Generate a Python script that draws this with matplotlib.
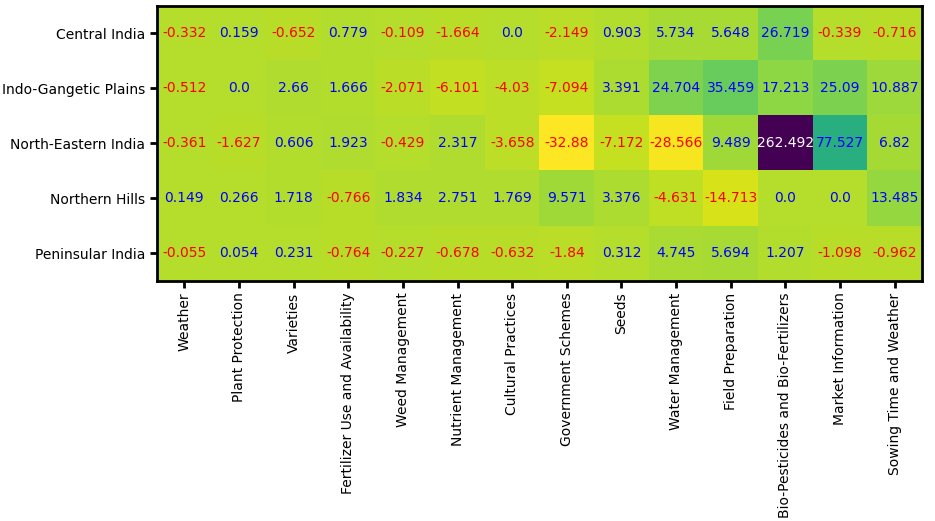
import numpy as np
from matplotlib import pyplot as plt

regions = ['Central India', 'Indo-Gangetic Plains', 'North-Eastern India',
           'Northern Hills', 'Peninsular India']
topics = ['Weather', 'Plant Protection', 'Varieties', 'Fertilizer Use and Availability',
          'Weed Management', 'Nutrient Management', 'Cultural Practices',
          'Government Schemes', 'Seeds', 'Water Management', 'Field Preparation',
          'Bio-Pesticides and Bio-Fertilizers', 'Market Information',
          'Sowing Time and Weather']

central = [-0.332, 0.159, -0.652, 0.779, -0.109, -1.664, 0.0, -2.149, 0.903, 5.734, 5.648, 26.719, -0.339, -0.716]
indo_gangetic = [-0.512, 0.0, 2.66, 1.666, -2.071, -6.101, -4.03, -7.094, 3.391, 24.704, 35.459, 17.213, 25.09, 10.887]
north_eastern = [-0.361, -1.627, 0.606, 1.923, -0.429, 2.317, -3.658, -32.88, -7.172, -28.566, 9.489, 262.492, 77.527, 6.82]
northern_hills = [0.149, 0.266, 1.718, -0.766, 1.834, 2.751, 1.769, 9.571, 3.376, -4.631, -14.713, 0.0, 0.0, 13.485]
peninsular = [-0.055, 0.054, 0.231, -0.764, -0.227, -0.678, -0.632, -1.84, 0.312, 4.745, 5.694, 1.207, -1.098, -0.962]

values = np.array([central, indo_gangetic, north_eastern, northern_hills, peninsular])

fig = plt.figure(figsize=(9.35, 5.21), dpi=100)
ax = fig.add_axes([0.168, 0.461, 0.818, 0.528])
ax.imshow(values, cmap='viridis_r', aspect='auto')

for i in range(values.shape[0]):
    for j in range(values.shape[1]):
        v = values[i, j]
        if v > 100:
            col = 'white'
        elif v < 0:
            col = 'red'
        else:
            col = 'blue'
        ax.text(j, i, str(v), ha='center', va='center', color=col, fontsize=10)

ax.set_xticks(range(len(topics)))
ax.set_xticklabels(topics, rotation=90, fontsize=10)
ax.set_yticks(range(len(regions)))
ax.set_yticklabels(regions, fontsize=10)
ax.tick_params(width=2, length=5)
for s in ax.spines.values():
    s.set_linewidth(2)

plt.savefig('out.png', dpi=100)
plt.close()
